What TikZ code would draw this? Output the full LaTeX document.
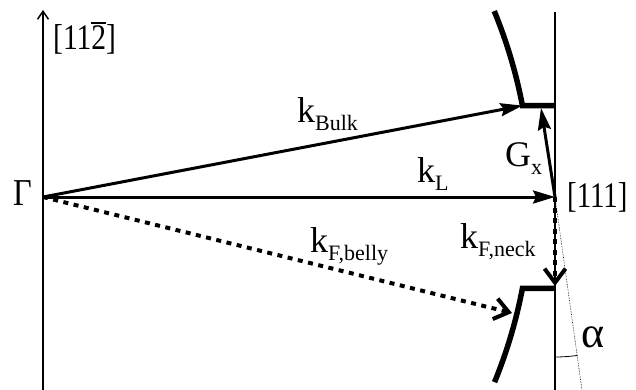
\documentclass[tikz,border=0pt]{standalone}
\usepackage{fontspec}
\setmainfont{Liberation Serif}
\usetikzlibrary{arrows.meta}
\newcommand\sbs[1]{\raisebox{-8pt}{\fontsize{22}{24}\selectfont #1}}
\newcommand\barred[1]{\makebox[0pt][l]{\raisebox{26pt}{\rule{18pt}{1.6pt}}}#1}
\begin{document}
\begin{tikzpicture}[x=1pt,y=-1pt,
  lbl/.style={font=\fontsize{36}{40}\selectfont, inner sep=0pt, anchor=base west},
  axisline/.style={line width=1.5pt},
  vec/.style={line width=3pt, -{Stealth[length=22pt,width=13pt,inset=3pt]}},
  dotvec/.style={line width=4pt, dash pattern=on 5pt off 5.5pt, -{Straight Barb[length=14pt,width=21pt]}},
  fermi/.style={line width=5.5pt, line join=miter},
  guide/.style={line width=0.6pt, densely dotted}]
\useasboundingbox (0,0) rectangle (636,390);
% coordinates
\coordinate (G) at (43,197);
\coordinate (L) at (555,197);
\coordinate (B) at (522.4,105.6);
\coordinate (N) at (522.4,288.4);
\coordinate (axB) at (43,390);
\coordinate (axT) at (43,10);
\coordinate (rT) at (555,12);
\coordinate (rB) at (555,390);
\coordinate (Bc) at (555,105.6);
\coordinate (Nc) at (555,288.4);
\coordinate (Gx) at (541,108);
\coordinate (neck) at (555,286);
\coordinate (belly) at (512,313);
\coordinate (aend) at (582,390);
% axes
\draw[axisline, -{Straight Barb[length=8pt,width=11pt]}] (axB) -- (axT);
\draw[axisline] (rB) -- (rT);
% Fermi surface pieces
\draw[fermi] (Bc) -- (B) arc[start angle=-10.8, end angle=-22.4, radius=488];
\draw[fermi] (Nc) -- (N) arc[start angle=10.8, end angle=22.3, radius=488];
% guide line and angle
\draw[guide] (L) -- (aend);
\draw[line width=0.8pt] (555,357) arc[start angle=90, end angle=82, radius=160];
% vectors
\draw[vec] (G) -- (B);
\draw[vec] (G) -- (L);
\draw[vec] (L) -- (Gx);
\draw[dotvec] (G) -- (belly);
\draw[dotvec] (L) -- (neck);
% labels
\node[lbl] (t112) at (53,50) {\scalebox{0.82}[1]{[11\barred{2}]}};
\node[lbl, font=\fontsize{38}{40}\selectfont] (tG) at (13,205) {\scalebox{0.85}[1]{Γ}};
\node[lbl] (tkb) at (297,123) {k\sbs{Bulk}};
\node[lbl] (tkl) at (417,182) {k\sbs{L}};
\node[lbl] (tgx) at (505,167) {G\sbs{x}};
\node[lbl] (t111) at (567,207) {\scalebox{0.8}[1]{[111]}};
\node[lbl] (tkfb) at (310,252) {k\sbs{F,belly}};
\node[lbl] (tkfn) at (460,248) {k\sbs{F,neck}};
\node[lbl, font=\fontsize{44}{46}\selectfont] (talpha) at (581,347) {α};
\end{tikzpicture}
\end{document}
